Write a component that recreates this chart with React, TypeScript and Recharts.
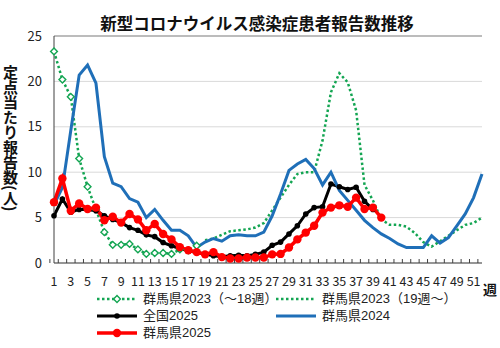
import { LineChart, Line, XAxis, YAxis, CartesianGrid, ReferenceLine } from "recharts";

const weeks = Array.from({ length: 52 }, (_, i) => i + 1);

// 群馬県2023（～18週）
const gunma2023a = [
  23.3, 20.2, 18.3, 11.5, 8.4, 5.9, 3.4, 2.0, 2.0, 2.1, 1.5, 1.0, 1.1, 1.1, 1.0, 1.5, 1.4, 1.9,
];
// 群馬県2023（19週～）
const gunma2023b = [
  2.5, 2.7, 3.1, 3.5, 3.6, 3.7, 3.9, 4.4, 5.8, 7.2, 8.6, 9.8, 10.0, 10.0, 13.5, 18.8, 20.9, 19.9,
  16.8, 8.6, 6.9, 4.8, 4.2, 4.2, 4.0, 3.3, 2.3, 1.8, 2.4, 3.0, 3.6, 4.2, 4.4, 5.0,
];
// 全国2025
const national2025 = [
  5.2, 7.05, 5.6, 5.9, 5.9, 5.75, 5.2, 4.8, 4.45, 3.9, 3.6, 3.1, 2.9, 2.25, 1.9, 1.6, 1.35, 1.15,
  1.0, 0.8, 0.7, 0.8, 0.85, 0.8, 0.95, 1.2, 1.95, 2.3, 3.2, 4.1, 5.4, 6.1, 6.2, 8.7, 8.4, 8.1,
  8.35, 6.8, 5.9,
];
// 群馬県2024
const gunma2024 = [
  6.4, 8.3, 14.6, 20.7, 21.8, 19.8, 11.7, 8.8, 8.4, 7.1, 6.7, 5.0, 5.9, 4.7, 3.6, 3.6, 3.0, 1.7,
  2.3, 2.7, 2.4, 3.0, 3.1, 3.0, 3.0, 3.4, 5.2, 7.6, 10.2, 10.9, 11.4, 10.4, 8.6, 10.0, 8.0, 6.9,
  5.8, 4.7, 3.9, 3.2, 2.7, 2.1, 1.7, 1.7, 1.7, 3.0, 2.2, 2.8, 4.1, 5.4, 7.2, 9.8,
];
// 群馬県2025
const gunma2025 = [
  6.7, 9.3, 5.75, 6.55, 5.95, 6.1, 4.7, 5.1, 4.45, 5.4, 4.8, 3.6, 4.3, 3.2, 2.6, 1.75, 1.4, 1.2,
  0.95, 1.2, 0.65, 0.5, 0.5, 0.6, 0.6, 0.6, 0.95, 1.0, 1.7, 2.6, 3.35, 4.1, 5.55, 6.1, 6.35, 6.2,
  7.2, 5.95, 6.1, 5.0,
];

const yTicks = [0, 5, 10, 15, 20, 25];

const data = weeks.map((w, i) => ({
  week: w,
  g23a: i < gunma2023a.length ? gunma2023a[i] : null,
  g23b: i >= 18 ? gunma2023b[i - 18] : null,
  nat25: i < national2025.length ? national2025[i] : null,
  g24: gunma2024[i],
  g25: i < gunma2025.length ? gunma2025[i] : null,
}));

const FONT = '"Noto Sans CJK JP", "Noto Sans", sans-serif';
// Latin first so the line box stays compact; kana/kanji fall back to Noto CJK
const LEGEND_FONT = '"Liberation Sans", "Noto Sans CJK JP", sans-serif';
const GREEN = "#13a552";
const BLUE = "#1f6fb8";
const RED = "#ff0000";
const PLOT_W = 428;
const BAND = PLOT_W / 52;

function WeekTick(props: any) {
  const { x, y, payload } = props;
  const w = payload.value as number;
  const bx = x - BAND / 2;
  return (
    <g>
      <line x1={bx} x2={bx} y1={y} y2={y - 4} stroke="#404040" />
      {w % 2 === 1 && (
        <text x={x} y={y + 23} textAnchor="middle" fontSize={12.5} fill="#222" fontFamily={FONT}>
          {w}
        </text>
      )}
    </g>
  );
}

function Diamond(props: any) {
  const { cx, cy, value } = props;
  if (value == null || cx == null) return <g />;
  const s = 3.4;
  return (
    <polygon
      points={`${cx},${cy - s} ${cx + s},${cy} ${cx},${cy + s} ${cx - s},${cy}`}
      fill="#fff"
      stroke={GREEN}
      strokeWidth={1.4}
    />
  );
}

function LegendIcon({ kind }: { kind: string }) {
  return (
    <svg width={42} height={12} style={{ marginRight: 5, flexShrink: 0 }}>
      {kind === "g23a" && (
        <>
          <line x1={1} x2={41} y1={6} y2={6} stroke={GREEN} strokeWidth={2.5} strokeDasharray="2.5 2.5" />
          <polygon points="21,2.6 24.4,6 21,9.4 17.6,6" fill="#fff" stroke={GREEN} strokeWidth={1.4} />
        </>
      )}
      {kind === "g23b" && (
        <line x1={1} x2={41} y1={6} y2={6} stroke={GREEN} strokeWidth={2.5} strokeDasharray="2.5 2.5" />
      )}
      {kind === "nat25" && (
        <>
          <line x1={1} x2={41} y1={6} y2={6} stroke="#000" strokeWidth={3} />
          <circle cx={21} cy={6} r={2.8} fill="#000" />
        </>
      )}
      {kind === "g24" && <line x1={1} x2={41} y1={6} y2={6} stroke={BLUE} strokeWidth={3} />}
      {kind === "g25" && (
        <>
          <line x1={1} x2={41} y1={6} y2={6} stroke={RED} strokeWidth={3.5} />
          <circle cx={21} cy={6} r={4.2} fill={RED} />
        </>
      )}
    </svg>
  );
}

const legendItems = [
  { key: "g23a", label: "群馬県2023（～18週）" },
  { key: "g23b", label: "群馬県2023（19週～）" },
  { key: "nat25", label: "全国2025" },
  { key: "g24", label: "群馬県2024" },
  { key: "g25", label: "群馬県2025" },
];

export default function App() {
  return (
    <div
      style={{
        position: "absolute",
        left: 0,
        top: 0,
        width: 500,
        height: 348,
        background: "#fff",
        fontFamily: FONT,
      }}
    >
      <div
        style={{
          position: "absolute",
          left: 0,
          width: 514,
          top: 12,
          textAlign: "center",
          fontSize: 16.5,
          fontWeight: 700,
          color: "#111",
          lineHeight: "22px",
        }}
      >
        新型コロナウイルス感染症患者報告数推移
      </div>
      <div
        style={{
          position: "absolute",
          left: 2,
          top: 65,
          writingMode: "vertical-rl",
          fontSize: 15,
          fontWeight: 700,
          color: "#111",
          lineHeight: "16px",
        }}
      >
        定点当たり報告数(人)
      </div>
      <div
        style={{
          position: "absolute",
          left: 483,
          top: 281,
          fontSize: 14,
          fontWeight: 700,
          color: "#111",
          lineHeight: "16px",
        }}
      >
        週
      </div>
      <LineChart
        width={500}
        height={348}
        data={data}
        margin={{ top: 36, right: 18, bottom: 55, left: 0 }}
      >
        <CartesianGrid vertical={false} stroke="#d9d9d9" />
        <XAxis
          dataKey="week"
          type="category"
          interval={0}
          tickSize={0}
          tickMargin={0}
          tickLine={false}
          tick={<WeekTick />}
          height={30}
          axisLine={{ stroke: "#404040" }}
        />
        <YAxis
          domain={[0, 25]}
          ticks={yTicks}
          width={54}
          tickSize={0}
          tickMargin={12}
          tickLine={false}
          axisLine={{ stroke: "#404040" }}
          tick={{ fontSize: 13, fill: "#222", fontFamily: FONT }}
        />
        <YAxis
          yAxisId="r"
          orientation="right"
          domain={[0, 25]}
          width={0}
          tick={false}
          tickLine={false}
          axisLine={{ stroke: "#8c8c8c" }}
        />
        <ReferenceLine y={25} stroke="#8c8c8c" />
        <Line
          dataKey="g23a"
          stroke={GREEN}
          strokeWidth={2.5}
          strokeDasharray="2.5 2.5"
          dot={<Diamond />}
          activeDot={false}
          isAnimationActive={false}
        />
        <Line
          dataKey="g23b"
          stroke={GREEN}
          strokeWidth={2.5}
          strokeDasharray="2.5 2.5"
          dot={false}
          activeDot={false}
          isAnimationActive={false}
        />
        <Line
          dataKey="nat25"
          stroke="#000"
          strokeWidth={3}
          dot={{ r: 2.8, fill: "#000", stroke: "none" }}
          activeDot={false}
          isAnimationActive={false}
        />
        <Line
          dataKey="g24"
          stroke={BLUE}
          strokeWidth={3}
          dot={false}
          activeDot={false}
          isAnimationActive={false}
        />
        <Line
          dataKey="g25"
          stroke={RED}
          strokeWidth={3.5}
          dot={{ r: 4.2, fill: RED, stroke: "none" }}
          activeDot={false}
          isAnimationActive={false}
        />
      </LineChart>
      <div
        style={{
          position: "absolute",
          left: 96,
          top: 290,
          display: "grid",
          gridTemplateColumns: "179px 200px",
          rowGap: 0,
          fontSize: 13,
          fontFamily: LEGEND_FONT,
          color: "#222",
          lineHeight: "17px",
        }}
      >
        {legendItems.map((it) => (
          <div
            key={it.key}
            style={{ display: "flex", alignItems: "center", whiteSpace: "nowrap", height: 17 }}
          >
            <LegendIcon kind={it.key} />
            <span>{it.label}</span>
          </div>
        ))}
      </div>
    </div>
  );
}
